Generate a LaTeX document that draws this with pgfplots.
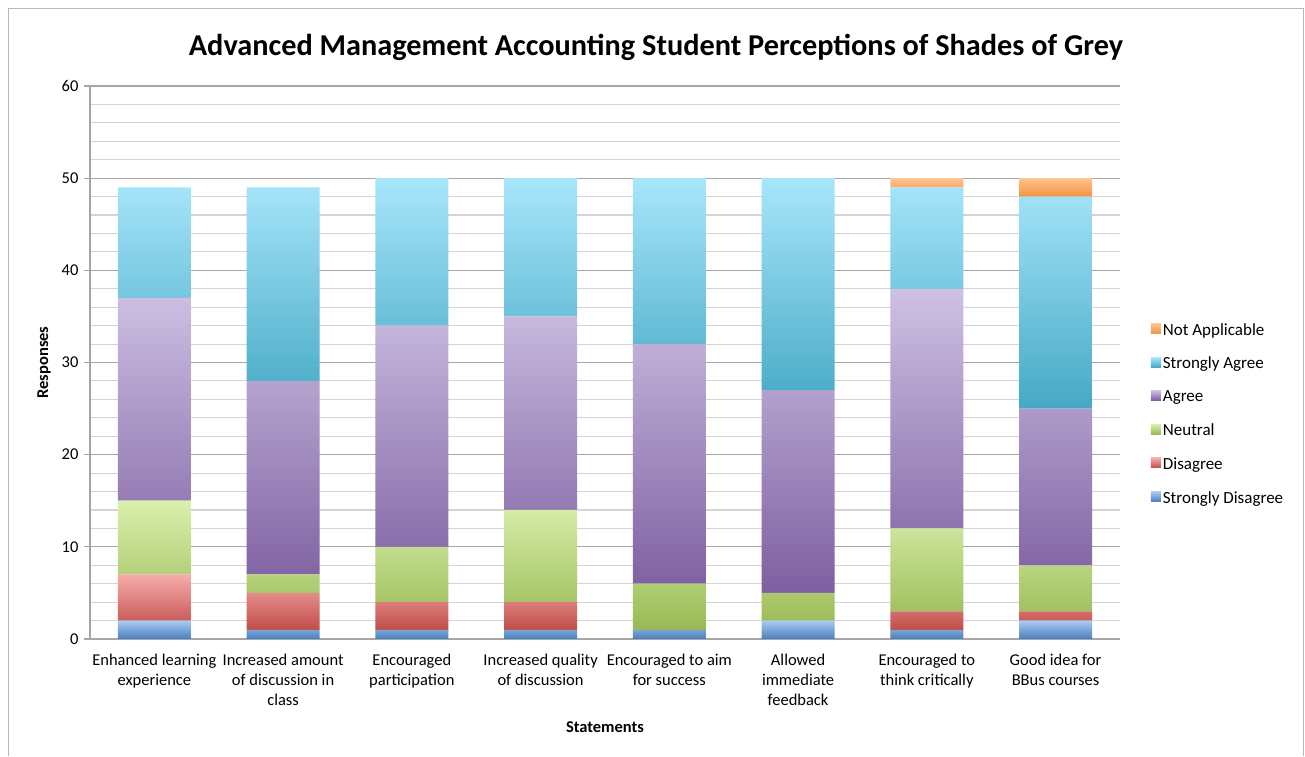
\documentclass[border=0pt]{standalone}
\usepackage{pgfplots}
\pgfplotsset{compat=1.18}
\usepackage{pgfplotstable}
\usepackage{fontspec}
\setmainfont{Carlito}

\definecolor{sdT}{HTML}{A9CBF2}\definecolor{sdB}{HTML}{4A7EBB}
\definecolor{dT}{HTML}{F6ADAB}\definecolor{dB}{HTML}{C04D4A}
\definecolor{nT}{HTML}{DAF0AD}\definecolor{nB}{HTML}{98B954}
\definecolor{aT}{HTML}{CEC1E4}\definecolor{aB}{HTML}{7D5FA0}
\definecolor{saT}{HTML}{A8E6FB}\definecolor{saB}{HTML}{45A9C4}
\definecolor{naT}{HTML}{FEC491}\definecolor{naB}{HTML}{F59240}
\definecolor{gridmaj}{HTML}{A6A6A6}
\definecolor{gridmin}{HTML}{D4D4D4}

\pgfplotstableread{
x SD D N A SA NA
0 2 5 8 22 12 0
1 1 4 2 21 21 0
2 1 3 6 24 16 0
3 1 3 10 21 15 0
4 1 0 5 26 18 0
5 2 0 3 22 23 0
6 1 2 9 26 11 1
7 2 1 5 17 23 2
}\datatable

\begin{document}
\begin{tikzpicture}
\fill[white] (0,0) rectangle (1305pt,756pt);
\draw[gridmaj!80, line width=1pt] (8.5pt,0) -- (8.5pt,747pt) -- (1303.5pt,747pt) -- (1303.5pt,0);
\node[font=\fontsize{30.3}{34}\selectfont\bfseries] at (656pt,709pt) {Advanced Management Accounting Student Perceptions of Shades of Grey};
\begin{axis}[
  at={(90pt,117pt)}, anchor=south west,
  scale only axis, width=1030pt, height=553pt,
  ybar stacked, bar width=73pt,
  xmin=-0.5, xmax=7.5, ymin=0, ymax=60,
  xtick={0,...,7},
  xticklabels={{Enhanced learning\\experience},{Increased amount\\of discussion in\\class},{Encouraged\\participation},{Increased quality\\of discussion},{Encouraged to aim\\for success},{Allowed\\immediate\\feedback},{Encouraged to\\think critically},{Good idea for\\BBus courses}},
  xticklabel style={align=center, font=\fontsize{16.5}{20}\selectfont, yshift=-6pt},
  x tick style={draw=none},
  ytick={0,10,...,60}, minor ytick={2,4,...,58},
  yticklabel style={font=\fontsize{16.5}{18}\selectfont, xshift=-2pt},
  /pgf/number format/assume math mode=true,
  ymajorgrids, yminorgrids,
  major grid style={gridmaj, line width=1.1pt},
  minor grid style={gridmin, line width=1.1pt},
  axis x line*=bottom, axis y line*=left,
  axis line style={gridmaj, line width=1.1pt},
  y tick style={gridmaj, line width=1.1pt},
  major tick length=6pt, minor tick length=0pt,
  ytick pos=left, tick align=outside,
  xlabel={Statements}, ylabel={Responses},
  every axis x label/.style={at={(axis description cs:0.5,0)}, yshift=-88pt, anchor=center, font=\fontsize{16.5}{18}\selectfont\bfseries},
  every axis y label/.style={at={(axis description cs:0,0.5)}, xshift=-46pt, rotate=90, anchor=center, font=\fontsize{16.5}{18}\selectfont\bfseries},
  legend style={at={(1.027,0.407)}, anchor=west, draw=none, fill=none, font=\fontsize{17}{19}\selectfont, row sep=16.5pt, cells={anchor=base west}},
  legend image code/.code={\path[#1,draw=none] (0pt,1.5pt) rectangle (10pt,11.5pt);},
  reverse legend,
]
\addplot[draw=none, top color=sdT, bottom color=sdB] table[x=x,y=SD]{\datatable};
\addplot[draw=none, top color=dT, bottom color=dB] table[x=x,y=D]{\datatable};
\addplot[draw=none, top color=nT, bottom color=nB] table[x=x,y=N]{\datatable};
\addplot[draw=none, top color=aT, bottom color=aB] table[x=x,y=A]{\datatable};
\addplot[draw=none, top color=saT, bottom color=saB] table[x=x,y=SA]{\datatable};
\addplot[draw=none, top color=naT, bottom color=naB] table[x=x,y=NA]{\datatable};
\legend{Strongly Disagree,Disagree,Neutral,Agree,Strongly Agree,Not Applicable}
\end{axis}
\end{tikzpicture}
\end{document}
